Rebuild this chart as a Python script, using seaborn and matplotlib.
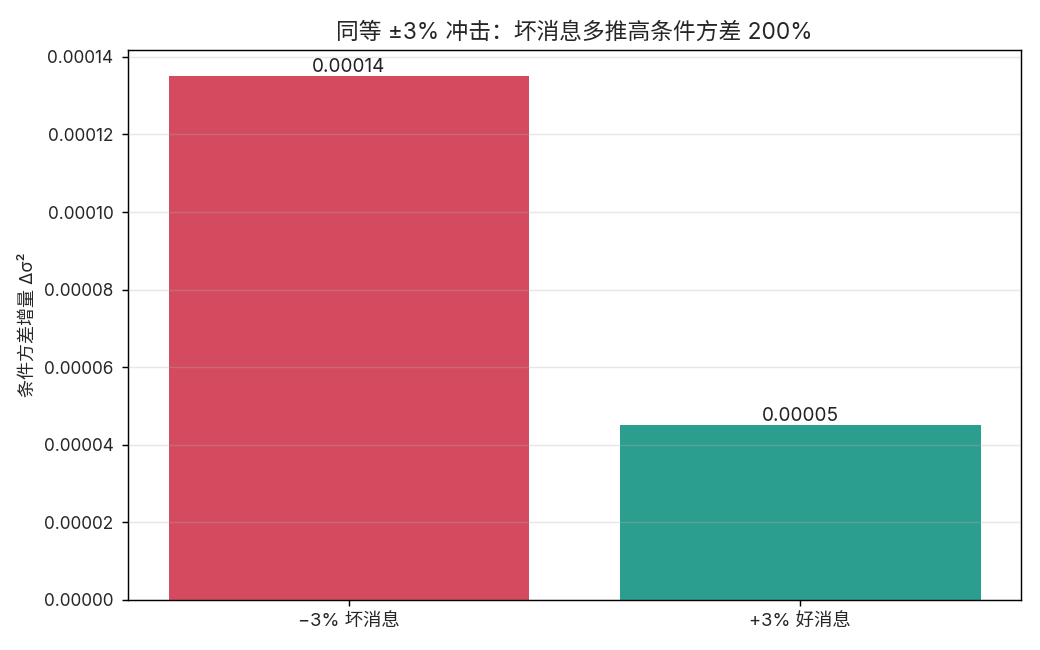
import matplotlib
matplotlib.use('Agg')
import matplotlib.pyplot as plt
import seaborn as sns
import pandas as pd

# data
labels = ["−3% 坏消息", "+3% 好消息"]
delta_var = [0.000135, 0.000045]
bar_colors = ["#d44a5e", "#2c9e8f"]

sns.set_theme(style="white")
plt.rcParams['font.family'] = ['Inter', 'Noto Sans CJK SC', 'DejaVu Sans']
plt.rcParams['axes.unicode_minus'] = False

df = pd.DataFrame({"label": labels, "value": delta_var})

fig, ax = plt.subplots(figsize=(8, 5), dpi=130)
sns.barplot(data=df, x="label", y="value", hue="label", palette=bar_colors,
            width=0.8, saturation=1, legend=False, linewidth=0, ax=ax)

# value labels on top of the bars
for p, v in zip(ax.patches, delta_var):
    ax.annotate(f"{v:.5f}", (p.get_x() + p.get_width() / 2., p.get_height()),
                ha='center', va='bottom', fontsize=10.5, color='#222222')

ax.set_xlim(-0.49, 1.49)
ax.set_ylim(0, max(delta_var) * 1.05)
ax.set_yticks([i * 0.00002 for i in range(8)])
ax.set_yticklabels([f"{i * 0.00002:.5f}" for i in range(8)])
ax.set_axisbelow(False)
ax.yaxis.grid(True, color='#b0b0b0', alpha=0.3, linewidth=0.8)
ax.tick_params(axis='y', labelsize=9.5, length=3.5, width=0.8, color='black',
               left=True, pad=4.5)
ax.tick_params(axis='x', labelsize=10.2, length=3.5, width=0.8, color='black',
               bottom=True)
for s in ax.spines.values():
    s.set_color('black')
    s.set_linewidth(0.8)

ax.set_xlabel("")
ax.set_ylabel("条件方差增量 Δσ²", fontsize=10)
ax.set_title("同等 ±3% 冲击：坏消息多推高条件方差 200%", fontsize=12.6)

plt.subplots_adjust(left=0.123, right=0.982, top=0.923, bottom=0.077)
plt.savefig("out.png", dpi=130)
plt.close()
